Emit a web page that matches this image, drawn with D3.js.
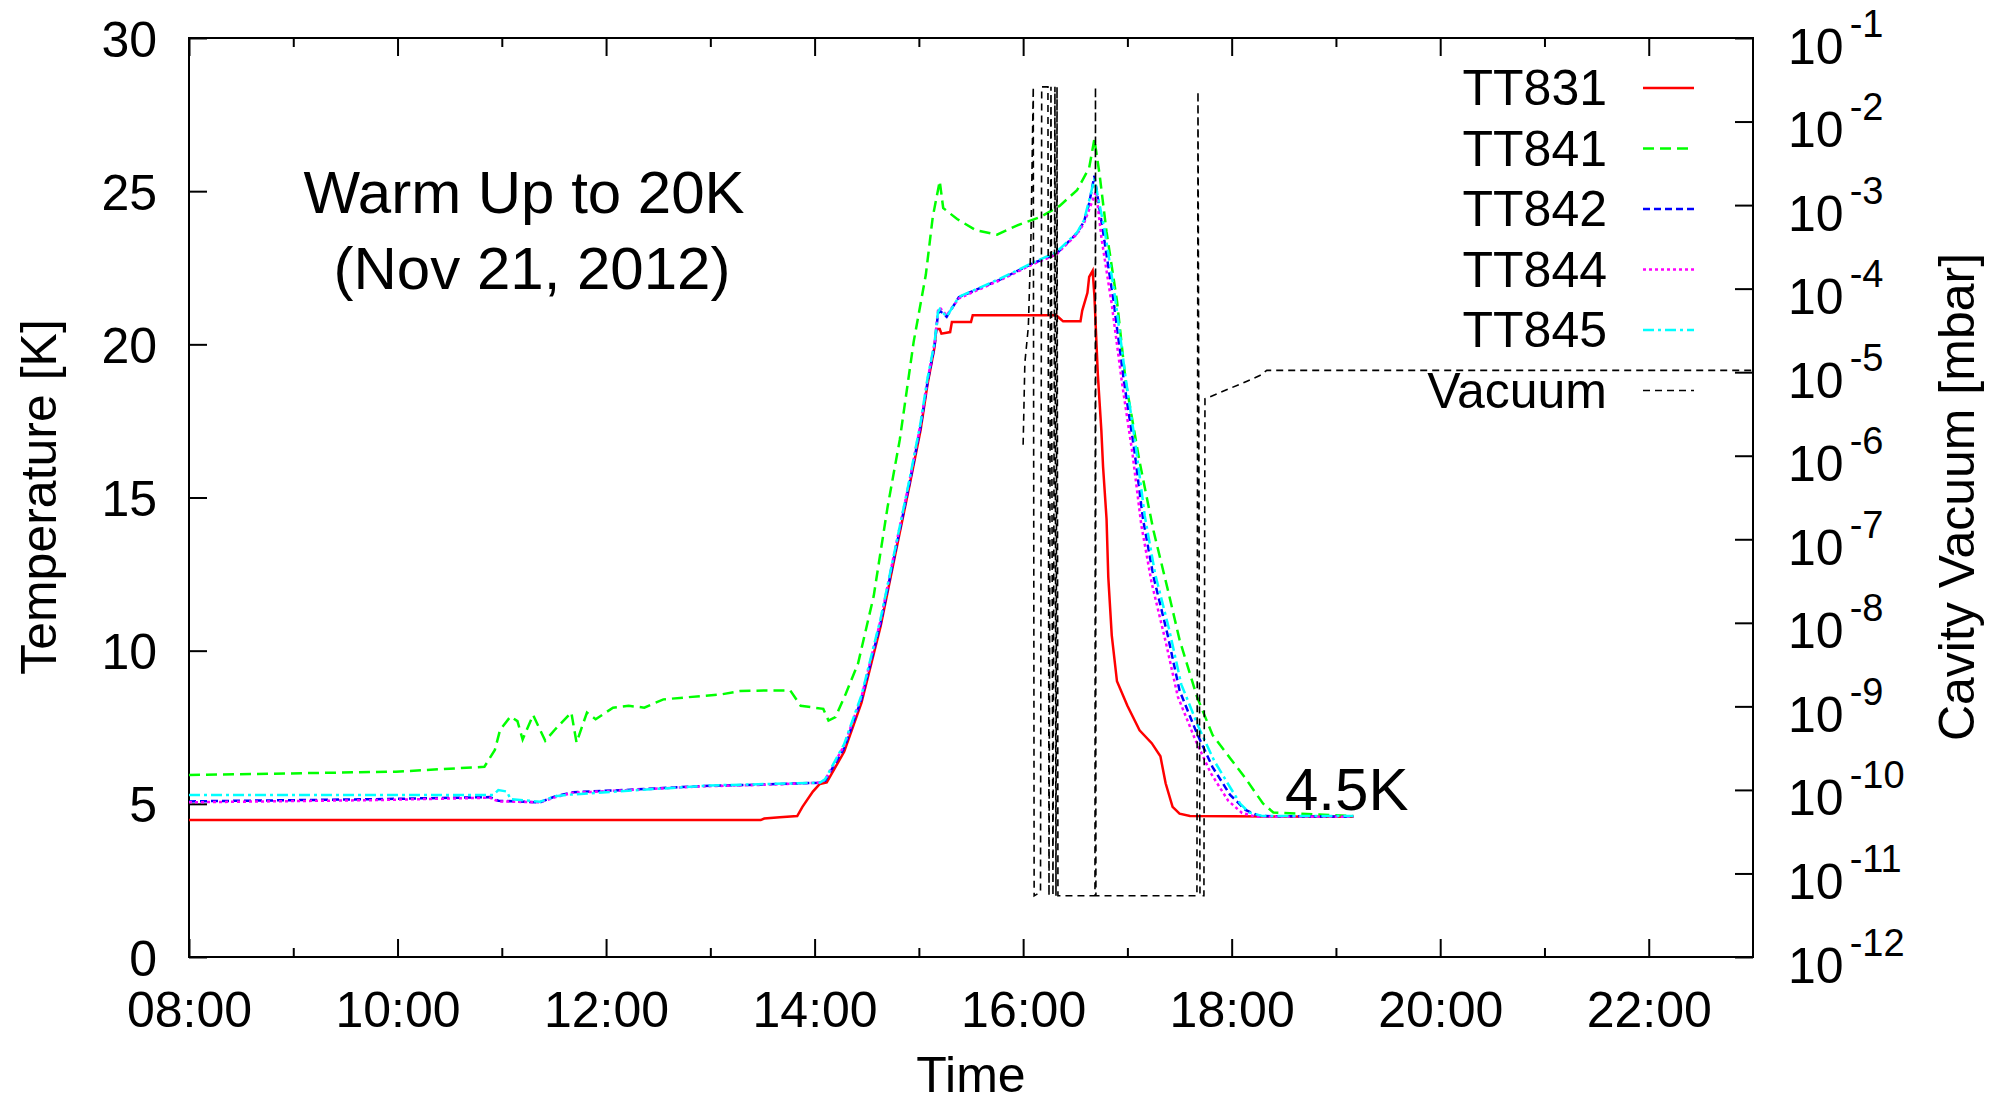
<!DOCTYPE html>
<html>
<head>
<meta charset="utf-8">
<script src="https://cdn.jsdelivr.net/npm/d3@7"></script>
<style>
  body { margin: 0; background: #fff; }
  svg { display: block; font-family: "Liberation Sans", Arial, Helvetica, sans-serif; }
</style>
</head>
<body>
<svg id="chart" width="1999" height="1105"></svg>
<script>
// temperatures [K]
var tt831Time = ["08:00","13:29","13:31","13:40","13:50","13:53","13:59","14:03","14:07","14:17","14:27","14:38","14:47","14:55","15:01","15:05","15:09","15:10","15:12","15:13","15:18","15:19","15:30","15:31","16:19","16:21","16:23","16:33","16:34","16:37","16:38","16:40","16:41","16:43","16:45","16:46","16:48","16:49","16:51","16:54","17:00","17:07","17:14","17:19","17:22","17:26","17:30","17:36","19:10"];
var tt831Temp = [4.47,4.47,4.52,4.56,4.6,4.9,5.4,5.65,5.7,6.7,8.3,10.8,13.3,15.5,17.2,18.7,19.9,20.5,20.5,20.35,20.4,20.73,20.73,20.95,20.95,20.85,20.75,20.75,21.1,21.68,22.2,22.4,21.6,19.0,17.2,16.0,14.3,12.4,10.5,9.0,8.2,7.4,6.98,6.55,5.67,4.9,4.68,4.6,4.58];

var tt841Time = ["08:00","09:59","10:50","10:56","10:59","11:05","11:09","11:12","11:18","11:25","11:31","11:40","11:43","11:49","11:54","12:04","12:13","12:22","12:33","12:55","13:06","13:17","13:32","13:46","13:52","14:05","14:08","14:12","14:18","14:25","14:34","14:42","14:49","14:57","15:04","15:08","15:12","15:14","15:22","15:33","15:45","15:56","16:10","16:21","16:31","16:38","16:41","16:44","16:48","16:54","16:59","17:07","17:15","17:23","17:30","17:40","17:49","17:59","18:08","18:18","18:24","19:10"];
var tt841Temp = [5.94,6.05,6.21,6.76,7.41,7.85,7.7,7.1,7.9,7.06,7.45,7.98,7.0,7.98,7.76,8.14,8.2,8.14,8.41,8.52,8.57,8.68,8.7,8.7,8.2,8.1,7.72,7.83,8.6,9.58,11.78,14.69,16.88,20.08,22.27,24.16,25.33,24.45,24.09,23.72,23.58,23.87,24.16,24.52,25.03,25.76,26.7,25.54,23.67,21.42,18.79,16.17,13.92,12.05,10.36,8.5,7.25,6.5,5.83,5.01,4.72,4.6];

var tt842Time = ["08:00","09:45","10:53","10:58","11:22","11:31","11:41","12:10","12:55","13:30","14:03","14:06","14:17","14:27","14:38","14:47","14:55","15:01","15:05","15:09","15:11","15:12","15:16","15:23","15:47","16:05","16:19","16:31","16:35","16:38","16:41","16:46","16:52","16:58","17:04","17:09","17:15","17:23","17:30","17:40","17:49","17:59","18:08","18:16","19:10"];
var tt842Temp = [5.08,5.15,5.22,5.1,5.05,5.25,5.38,5.45,5.58,5.63,5.69,5.75,6.82,8.42,10.9,13.39,15.57,17.31,18.77,19.93,21.0,21.1,20.9,21.54,22.12,22.63,22.95,23.63,24.0,24.6,25.5,23.67,21.42,18.79,16.54,14.29,12.42,10.55,8.7,7.3,6.2,5.3,4.8,4.6,4.58];

var tt844Time = ["08:00","09:45","10:53","10:58","11:22","11:31","11:41","12:10","12:55","13:30","14:03","14:06","14:17","14:27","14:38","14:47","14:55","15:01","15:05","15:09","15:11","15:12","15:16","15:23","15:47","16:05","16:19","16:31","16:35","16:38","16:42","16:45","16:51","16:57","17:03","17:08","17:14","17:22","17:29","17:39","17:48","17:58","18:06","18:14","19:10"];
var tt844Temp = [5.05,5.12,5.2,5.08,5.05,5.22,5.36,5.44,5.57,5.62,5.69,5.78,6.9,8.5,11.0,13.5,15.65,17.4,18.85,20.0,21.1,21.2,20.95,21.5,22.1,22.6,22.93,23.6,23.95,24.4,25.0,23.5,21.3,18.7,16.4,14.1,12.2,10.3,8.5,7.1,6.0,5.1,4.7,4.58,4.58];

var tt845Time = ["08:00","10:55","10:58","11:03","11:05","11:22","11:31","11:39","12:19","13:00","14:03","14:06","14:17","14:27","14:38","14:47","14:55","15:01","15:05","15:09","15:11","15:12","15:16","15:23","15:47","16:05","16:19","16:31","16:35","16:38","16:41","16:47","16:53","16:59","17:05","17:10","17:16","17:24","17:31","17:41","17:50","17:59","18:05","18:10","18:18","19:10"];
var tt845Temp = [5.29,5.29,5.45,5.4,5.15,5.07,5.25,5.3,5.45,5.6,5.69,5.8,6.95,8.55,11.05,13.5,15.7,17.45,18.9,20.05,21.05,21.15,20.9,21.55,22.15,22.65,23.0,23.65,24.05,24.7,25.4,23.7,21.5,18.9,16.6,14.4,12.5,10.7,8.9,7.5,6.4,5.55,5.0,4.72,4.6,4.6];

// cavity vacuum [mbar]
var vacTime = ["16:00:00","16:01:00","16:03:00","16:04:30","16:05:50","16:06:20","16:10:00","16:10:41","16:14:17","16:14:53","16:16:01","16:17:10","16:18:18","16:18:54","16:19:30","16:20:02","16:41:20","16:41:38","16:41:53","17:40:01","17:40:37","17:41:46","17:44:02","17:44:38","17:55:01","18:08:49","18:16:12","18:20:13","23:00:00"];
var vacPress = [1.35e-6,1.3e-5,3.5e-5,4e-4,2.6e-2,5.4e-12,6e-12,2.6e-2,2.6e-2,5.4e-12,2.6e-2,5.4e-12,2.6e-2,5.4e-12,2.6e-2,5.4e-12,5.4e-12,2.6e-2,5.4e-12,5.4e-12,2.3e-2,5.4e-12,5.4e-12,4.8e-6,5.9e-6,7.8e-6,9.1e-6,1.05e-5,1.05e-5];

var tempTicks = [0, 5, 10, 15, 20, 25, 30];
var vacTicks = [1e-12,1e-11,1e-10,1e-9,1e-8,1e-7,1e-6,1e-5,1e-4,1e-3,1e-2,1e-1];
var seriesNames = ["TT831", "TT841", "TT842", "TT844", "TT845", "Vacuum"];

function load() {
  var svg = d3.select("#chart");
  var left = 189, right = 1753, top = 38, bottom = 957;

  var parse = function(s) {
    return d3.timeParse(s.length > 5 ? "%H:%M:%S" : "%H:%M")(s);
  };

  var x = d3.scaleTime().domain([parse("08:00"), parse("23:00")]).range([left, right]);
  var yT = d3.scaleLinear().domain([0, 30]).range([bottom, top]);
  var yV = d3.scaleLog().domain([1e-12, 1e-1]).range([bottom, top]);

  svg.append("rect").attr("width", 1999).attr("height", 1105).attr("fill", "#fff");

  var hours = d3.timeHour.range(parse("08:00"), parse("23:00"));
  var major = hours.filter(function(d) { return d.getHours() % 2 === 0; });
  var minor = hours.filter(function(d) { return d.getHours() % 2 === 1; });

  function styleAxis(g) {
    g.select(".domain").remove();
    g.attr("font-family", null).attr("font-size", 50);
    g.selectAll(".tick line").attr("stroke", "#000").attr("stroke-width", 2);
    g.selectAll(".tick text").attr("fill", "#000");
  }

  // bottom, major + minor
  svg.append("g").attr("transform", "translate(0," + bottom + ")")
    .call(d3.axisBottom(x).tickValues(major).tickSizeInner(-18).tickSizeOuter(0)
      .tickPadding(34).tickFormat(d3.timeFormat("%H:%M")))
    .call(styleAxis);
  svg.append("g").attr("transform", "translate(0," + bottom + ")")
    .call(d3.axisBottom(x).tickValues(minor).tickSizeInner(-9).tickSizeOuter(0).tickFormat(""))
    .call(styleAxis);
  // top mirror
  svg.append("g").attr("transform", "translate(0," + top + ")")
    .call(d3.axisTop(x).tickValues(major).tickSizeInner(-18).tickSizeOuter(0).tickFormat(""))
    .call(styleAxis);
  svg.append("g").attr("transform", "translate(0," + top + ")")
    .call(d3.axisTop(x).tickValues(minor).tickSizeInner(-9).tickSizeOuter(0).tickFormat(""))
    .call(styleAxis);

  // left temperature axis
  svg.append("g").attr("transform", "translate(" + left + ",0)")
    .call(d3.axisLeft(yT).tickValues(tempTicks).tickSizeInner(-18).tickSizeOuter(0).tickPadding(32))
    .call(styleAxis)
    .selectAll(".tick text").attr("dy", "0.36em");

  // right vacuum axis
  var ra = svg.append("g").attr("transform", "translate(" + right + ",0)")
    .call(d3.axisRight(yV).tickValues(vacTicks).tickSizeInner(-18).tickSizeOuter(0).tickPadding(35))
    .call(styleAxis);
  ra.selectAll(".tick text").attr("dy", 25).each(function(d) {
    var t = d3.select(this);
    t.text("");
    t.append("tspan").text("10");
    t.append("tspan").attr("dx", 6).attr("dy", -27).attr("font-size", 38)
      .text(String(Math.round(Math.log10(d))));
  });

  // frame
  svg.append("rect").attr("x", left).attr("y", top)
    .attr("width", right - left).attr("height", bottom - top)
    .attr("fill", "none").attr("stroke", "#000").attr("stroke-width", 2);

  // axis titles
  svg.append("text").attr("x", (left + right) / 2).attr("y", 1092)
    .attr("text-anchor", "middle").attr("font-size", 50).text("Time");
  svg.append("text").attr("transform", "translate(56,497) rotate(-90)")
    .attr("text-anchor", "middle").attr("font-size", 50).text("Temperature [K]");
  svg.append("text").attr("transform", "translate(1974,497) rotate(-90)")
    .attr("text-anchor", "middle").attr("font-size", 50).text("Cavity Vacuum [mbar]");

  // series
  var series = [
    {name: seriesNames[0], t: tt831Time, v: tt831Temp, color: "#ff0000", dash: null, w: 2.5, y: yT},
    {name: seriesNames[1], t: tt841Time, v: tt841Temp, color: "#00ff00", dash: "11,6", w: 2.5, y: yT},
    {name: seriesNames[2], t: tt842Time, v: tt842Temp, color: "#0000ff", dash: "7,4", w: 2.5, y: yT},
    {name: seriesNames[3], t: tt844Time, v: tt844Temp, color: "#ff00ff", dash: "3,3", w: 2.5, y: yT},
    {name: seriesNames[4], t: tt845Time, v: tt845Temp, color: "#00ffff", dash: "11,4,3,4", w: 2.5, y: yT},
    {name: seriesNames[5], t: vacTime, v: vacPress, color: "#000", dash: "7,5", w: 1.6, y: yV}
  ];

  series.forEach(function(s, i) {
    var pts = s.t.map(function(tm, k) { return {t: parse(tm), v: s.v[k]}; });
    var line = d3.line().x(function(d) { return x(d.t); }).y(function(d) { return s.y(d.v); });
    svg.append("path").datum(pts)
      .attr("d", line)
      .attr("fill", "none")
      .attr("stroke", s.color)
      .attr("stroke-width", s.w)
      .attr("stroke-dasharray", s.dash);

    // legend entry
    var by = 105 + i * 60.5;
    svg.append("text").attr("x", 1607).attr("y", by)
      .attr("text-anchor", "end").attr("font-size", 50).text(s.name);
    svg.append("line").attr("x1", 1643).attr("x2", 1694)
      .attr("y1", by - 17).attr("y2", by - 17)
      .attr("stroke", s.color).attr("stroke-width", s.w)
      .attr("stroke-dasharray", s.dash);
  });

  // annotations
  svg.append("text").attr("x", 524).attr("y", 213).attr("text-anchor", "middle")
    .attr("font-size", 60).text("Warm Up to 20K");
  svg.append("text").attr("x", 532).attr("y", 289).attr("text-anchor", "middle")
    .attr("font-size", 60).text("(Nov 21, 2012)");
  svg.append("text").attr("x", 1285).attr("y", 810)
    .attr("font-size", 60).text("4.5K");
}

load();
</script>
</body>
</html>
